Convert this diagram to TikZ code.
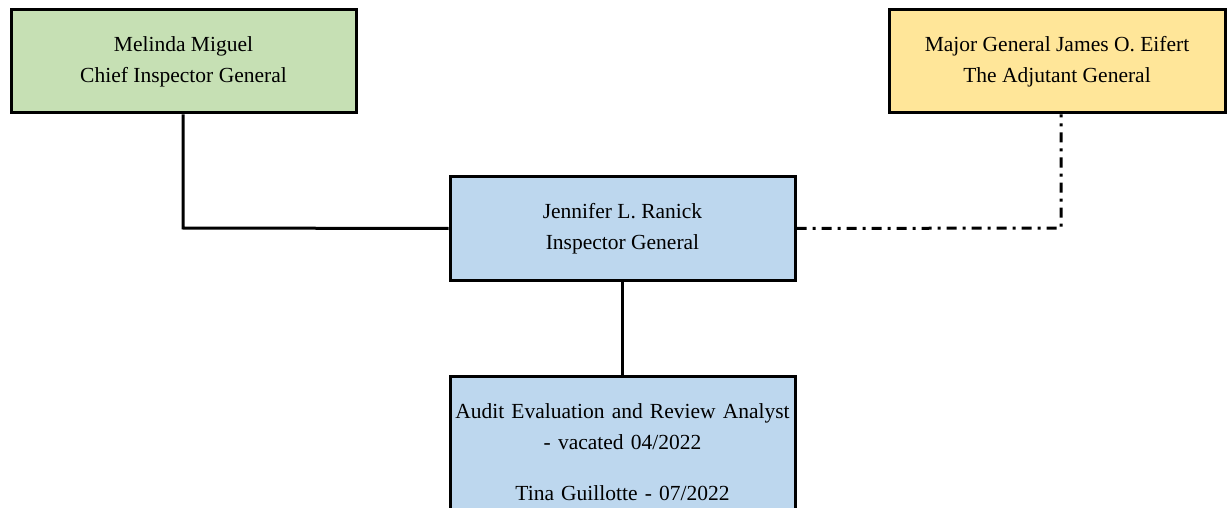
\documentclass[tikz,border=0pt]{standalone}
\usepackage{fontspec}
\setmainfont{Liberation Serif}
\definecolor{cgreen}{HTML}{C6E0B4}
\definecolor{cyellow}{HTML}{FFE699}
\definecolor{cblue}{HTML}{BDD7EE}
\begin{document}
\begin{tikzpicture}[x=1pt,y=-1pt,
  box/.style={draw=black,line width=3pt,align=center,inner sep=0pt,
    font=\fontsize{21.5}{31}\selectfont},
  conn/.style={line width=3pt},
  dashdot/.style={line width=3pt,dash pattern=on 10pt off 6pt on 3pt off 6pt}]
\useasboundingbox (0,0) rectangle (1227,508);
\clip (0,0) rectangle (1227,508);
\node[box,fill=cgreen,minimum width=345pt,minimum height=103pt] (mm) at (183.5,61.5)
  {Melinda Miguel\\Chief Inspector General};
\node[box,fill=cyellow,minimum width=336pt,minimum height=103pt] (je) at (1057,61.5)
  {Major General James O. Eifert\\The Adjutant General};
\node[box,fill=cblue,minimum width=345pt,minimum height=104pt] (jr) at (622.5,228.5)
  {Jennifer L. Ranick\\Inspector General};
\node[box,fill=cblue,minimum width=345pt,anchor=north,inner ysep=27pt,text width=340pt] (ae) at (622.5,375)
  {Audit Evaluation and Review Analyst\\- vacated 04/2022\\[20pt]Tina Guillotte - 07/2022};
\coordinate (c1) at (183,228);
\coordinate (c2) at (1061,228);
\draw[conn] (mm.south -| c1) -- (c1) -- (jr.west);
\draw[dashdot] (jr.east) -- (c2) -- (je.south -| c2);
\draw[conn] (jr.south) -- (ae.north);
\end{tikzpicture}
\end{document}
